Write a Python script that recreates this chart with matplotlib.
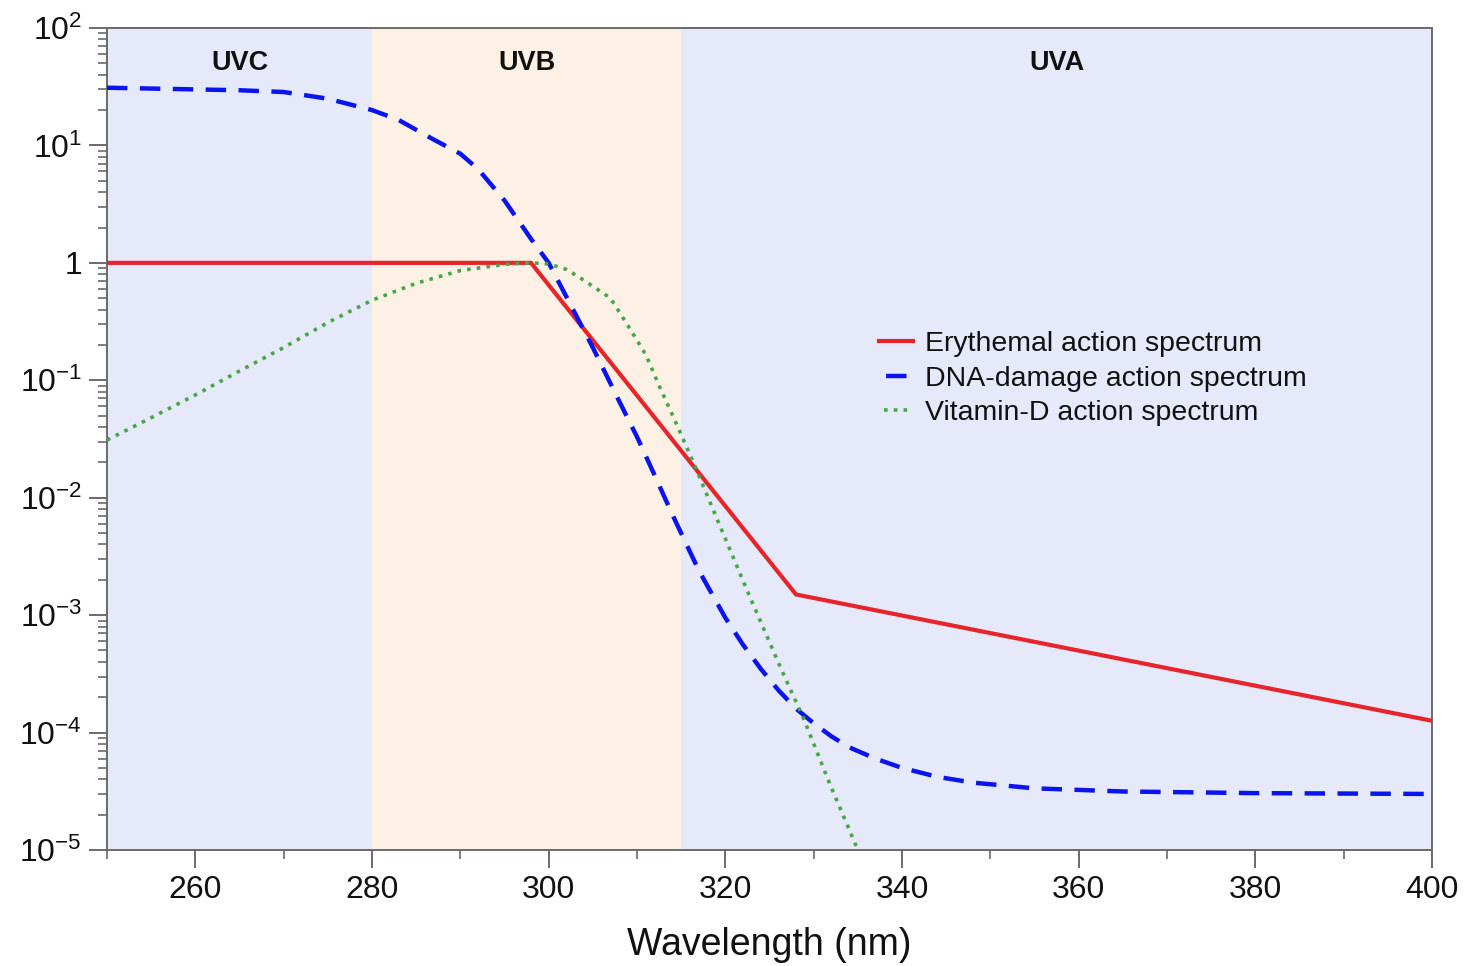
import matplotlib
matplotlib.use("Agg")
import matplotlib.pyplot as plt
from matplotlib.lines import Line2D
from matplotlib.ticker import FixedLocator, FixedFormatter, LogLocator, NullFormatter
import numpy as np

# ---------------- data ----------------
ery_wl = [250, 298, 328, 400]
ery_val = [1.0, 1.0, 1.5e-3, 1.26e-4]

dna_wl = [250, 255, 260, 265, 270, 275, 280, 283, 287, 290, 292, 295, 298, 300, 303, 305,
          308, 310, 312, 314, 317, 320, 322, 324, 326, 328, 330, 332, 334, 337, 340, 344,
          348, 355, 365, 380, 400]
dna_val = [31, 30.5, 30, 29.5, 28.5, 25, 20, 16.5, 11.2, 8.5, 6.3, 3.4, 1.6, 1.0, 0.37, 0.19,
           0.066, 0.033, 0.0155, 0.0072, 0.0024, 9.5e-4, 5.6e-4, 3.5e-4, 2.3e-4, 1.6e-4,
           1.2e-4, 9.3e-5, 7.5e-5, 6.0e-5, 5.0e-5, 4.2e-5, 3.75e-5, 3.35e-5, 3.15e-5,
           3.05e-5, 3.0e-5]

vitd_wl = [250, 255, 260, 265, 270, 275, 280, 285, 290, 295, 298, 300, 302, 304, 307,
           309, 311, 312.5, 314.5, 316.5, 319.5, 322.5, 326.3, 328.8, 331.8, 335]
vitd_val = [0.031, 0.048, 0.075, 0.12, 0.19, 0.31, 0.48, 0.67, 0.86, 0.97, 1.0, 0.98,
            0.88, 0.71, 0.5, 0.29, 0.165, 0.09, 0.042, 0.019, 5.5e-3, 1.6e-3, 3.5e-4,
            1.35e-4, 3.7e-5, 1.0e-5]

labels = ["Erythemal action spectrum", "DNA-damage action spectrum", "Vitamin-D action spectrum"]

bands = ["UVC", "UVB", "UVA"]
band_edges = [250, 280, 315, 400]
band_colors = ["#e6e9fa", "#fdf0e4", "#e6e9fa"]

xticks = [260, 280, 300, 320, 340, 360, 380, 400]
yticks = [1e-5, 1e-4, 1e-3, 1e-2, 1e-1, 1, 10, 100]
ytick_labels = [r"$10^{-5}$", r"$10^{-4}$", r"$10^{-3}$", r"$10^{-2}$", r"$10^{-1}$",
                "1", r"$10^{1}$", r"$10^{2}$"]

# ---------------- style ----------------
plt.rcParams["font.family"] = ["Liberation Sans", "DejaVu Sans"]
plt.rcParams["mathtext.fontset"] = "custom"
plt.rcParams["mathtext.rm"] = "Liberation Sans"
plt.rcParams["mathtext.it"] = "Liberation Sans:italic"
plt.rcParams["mathtext.bf"] = "Liberation Sans:bold"

fig = plt.figure(figsize=(14.66, 9.66), dpi=100)
ax = fig.add_axes([107/1466, 116/966, 1325/1466, 822/966])

for i, name in enumerate(bands):
    ax.axvspan(band_edges[i], band_edges[i+1], color=band_colors[i], lw=0, zorder=0)
    ax.text((band_edges[i] + band_edges[i+1]) / 2, 0.958, name, transform=ax.get_xaxis_transform(),
            ha="center", va="center", fontsize=19.5, fontweight="bold", color="#111111")

red, blue, green = "#e8242b", "#0a14ee", "#45a845"
ax.plot(ery_wl, ery_val, color=red, lw=3.0, zorder=3)
ax.plot(dna_wl, dna_val, color=blue, lw=3.2, dashes=(4.6, 2.8), zorder=3)
ax.plot(vitd_wl, vitd_val, color=green, lw=2.6, dashes=(1, 1.7), zorder=3)

ax.set_yscale("log")
ax.set_xlim(250, 400)
ax.set_ylim(1e-5, 1e2)

ax.xaxis.set_major_locator(FixedLocator(xticks))
ax.xaxis.set_minor_locator(FixedLocator([250, 270, 290, 310, 330, 350, 370, 390]))
ax.yaxis.set_major_locator(FixedLocator(yticks))
ax.yaxis.set_major_formatter(FixedFormatter(ytick_labels))
ax.yaxis.set_minor_locator(LogLocator(base=10, subs=np.arange(2, 10), numticks=20))
ax.yaxis.set_minor_formatter(NullFormatter())

spine_col = "#6a6a6a"
for s in ax.spines.values():
    s.set_color(spine_col)
    s.set_linewidth(1.4)

ax.tick_params(axis="both", which="major", direction="out", length=13, width=1.4,
               color=spine_col, labelsize=23, labelcolor="#111111", pad=5)
ax.tick_params(axis="both", which="minor", direction="out", length=6.5, width=1.2,
               color=spine_col)

ax.set_xlabel("Wavelength (nm)", fontsize=27, color="#111111", labelpad=16)

handles = [
    Line2D([], [], color=red, lw=3.0),
    Line2D([], [], color=blue, lw=3.2, linestyle=(5.8, (4.6, 2.8))),
    Line2D([], [], color=green, lw=2.6, linestyle=(1.31, (1, 1.7))),
]
leg = ax.legend(handles, labels, loc="upper left", bbox_to_anchor=(0.574, 0.645),
                frameon=False, fontsize=20.5, handlelength=1.2, handletextpad=0.42,
                labelspacing=0.3, borderaxespad=0)
for t in leg.get_texts():
    t.set_color("#111111")

fig.savefig("out.png", dpi=100)
